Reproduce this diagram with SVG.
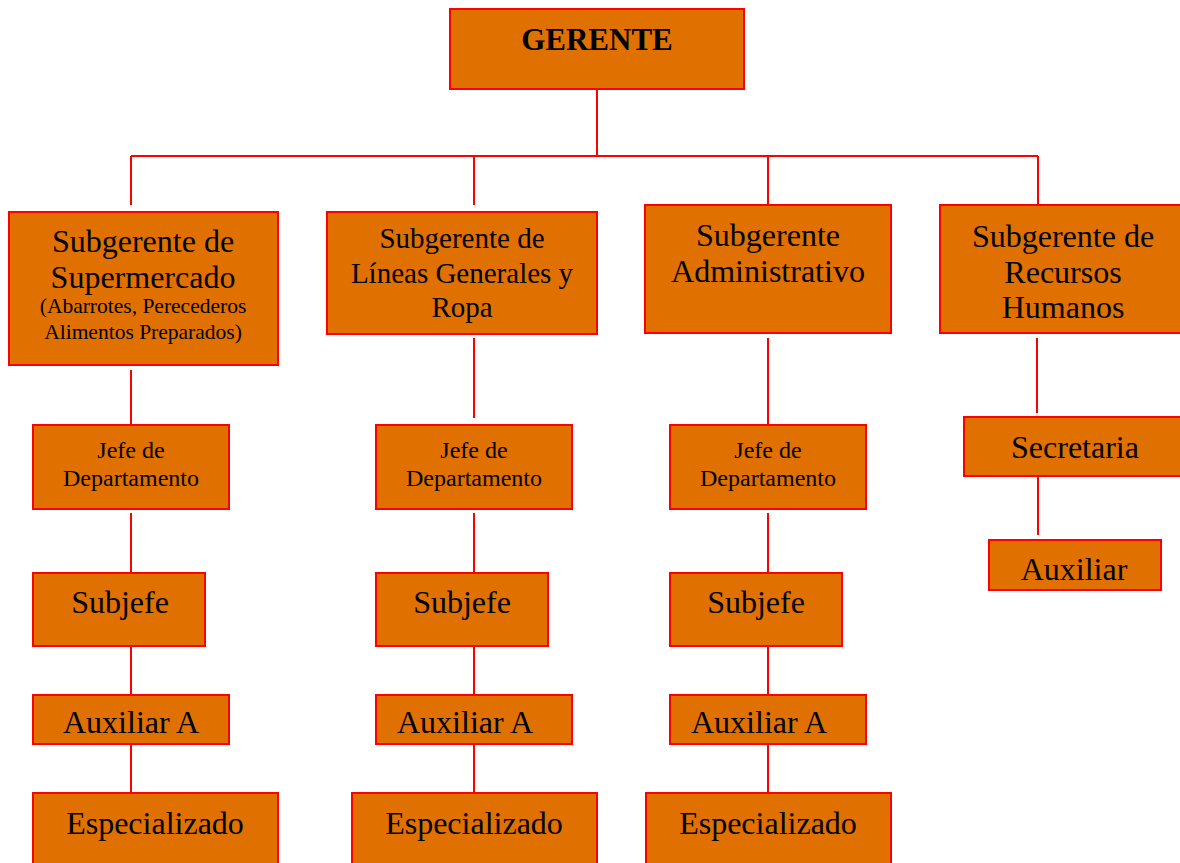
<svg xmlns="http://www.w3.org/2000/svg" width="1180" height="863" viewBox="0 0 1180 863">
  <style>
    .box { fill: #E07000; stroke: #FF0000; stroke-width: 2; }
    .lbl { font-family: "Liberation Serif", "Times New Roman", serif; fill: #000; text-anchor: middle; }
    .xl { font-size: 32px; }
    .l { font-size: 29px; }
    .m { font-size: 24px; }
    .s { font-size: 21.5px; }
    .b { font-weight: bold; font-size: 31px; }
    .wire { stroke: #FF0000; stroke-width: 2; fill: none; }
  </style>
  <rect width="1180" height="863" fill="#FFFFFF"/>

  <!-- connectors -->
  <g id="connectors" class="wire">
    <path d="M597 82V156M131 156H1038M131 156V205M474 156V205M768 156V205M1038 156V205"/>
    <path d="M131 370V425M131 513V572M131 646V694M131 744V792"/>
    <path d="M474 338V418M474 513V572M474 646V694M474 744V792"/>
    <path d="M768 338V425M768 513V572M768 646V694M768 744V792"/>
    <path d="M1037 338V413M1038 474V535"/>
  </g>

  <g id="gerente">
    <rect class="box" x="450" y="9" width="294" height="80"/>
    <text class="lbl b" x="597" y="50">GERENTE</text>
  </g>

  <!-- second level -->
  <g id="sub-supermercado">
    <rect class="box" x="9" y="212" width="269" height="153"/>
    <text class="lbl xl" x="143" y="252">Subgerente de</text>
    <text class="lbl xl" x="143" y="288">Supermercado</text>
    <text class="lbl s" x="143" y="313">(Abarrotes, Perecederos</text>
    <text class="lbl s" x="143" y="339">Alimentos Preparados)</text>
  </g>
  <g id="sub-lineas">
    <rect class="box" x="327" y="212" width="270" height="122"/>
    <text class="lbl l" x="462" y="248">Subgerente de</text>
    <text class="lbl l" x="462" y="283">Líneas Generales y</text>
    <text class="lbl l" x="462" y="317">Ropa</text>
  </g>
  <g id="sub-administrativo">
    <rect class="box" x="645" y="205" width="246" height="128"/>
    <text class="lbl xl" x="768" y="246">Subgerente</text>
    <text class="lbl xl" x="768" y="282">Administrativo</text>
  </g>
  <g id="sub-rrhh">
    <rect class="box" x="940" y="205" width="246" height="128"/>
    <text class="lbl xl" x="1063" y="247">Subgerente de</text>
    <text class="lbl xl" x="1063" y="283">Recursos</text>
    <text class="lbl xl" x="1063" y="318">Humanos</text>
  </g>

  <!-- column 1 -->
  <g id="jefe-1">
    <rect class="box" x="33" y="425" width="196" height="84"/>
    <text class="lbl m" x="131" y="458">Jefe de</text>
    <text class="lbl m" x="131" y="486">Departamento</text>
  </g>
  <g id="subjefe-1">
    <rect class="box" x="33" y="573" width="172" height="73"/>
    <text class="lbl xl" x="120" y="613">Subjefe</text>
  </g>
  <g id="auxiliar-a-1">
    <rect class="box" x="33" y="695" width="196" height="49"/>
    <text class="lbl xl" x="131" y="733">Auxiliar A</text>
  </g>
  <g id="especializado-1">
    <rect class="box" x="33" y="793" width="245" height="80"/>
    <text class="lbl xl" x="155" y="834">Especializado</text>
  </g>

  <!-- column 2 -->
  <g id="jefe-2">
    <rect class="box" x="376" y="425" width="196" height="84"/>
    <text class="lbl m" x="474" y="458">Jefe de</text>
    <text class="lbl m" x="474" y="486">Departamento</text>
  </g>
  <g id="subjefe-2">
    <rect class="box" x="376" y="573" width="172" height="73"/>
    <text class="lbl xl" x="462" y="613">Subjefe</text>
  </g>
  <g id="auxiliar-a-2">
    <rect class="box" x="376" y="695" width="196" height="49"/>
    <text class="lbl xl" x="465" y="733">Auxiliar A</text>
  </g>
  <g id="especializado-2">
    <rect class="box" x="352" y="793" width="245" height="80"/>
    <text class="lbl xl" x="474" y="834">Especializado</text>
  </g>

  <!-- column 3 -->
  <g id="jefe-3">
    <rect class="box" x="670" y="425" width="196" height="84"/>
    <text class="lbl m" x="768" y="458">Jefe de</text>
    <text class="lbl m" x="768" y="486">Departamento</text>
  </g>
  <g id="subjefe-3">
    <rect class="box" x="670" y="573" width="172" height="73"/>
    <text class="lbl xl" x="756" y="613">Subjefe</text>
  </g>
  <g id="auxiliar-a-3">
    <rect class="box" x="670" y="695" width="196" height="49"/>
    <text class="lbl xl" x="759" y="733">Auxiliar A</text>
  </g>
  <g id="especializado-3">
    <rect class="box" x="646" y="793" width="245" height="80"/>
    <text class="lbl xl" x="768" y="834">Especializado</text>
  </g>

  <!-- column 4 -->
  <g id="secretaria">
    <rect class="box" x="964" y="417" width="222" height="59"/>
    <text class="lbl xl" x="1075" y="458">Secretaria</text>
  </g>
  <g id="auxiliar">
    <rect class="box" x="989" y="540" width="172" height="50"/>
    <text class="lbl xl" x="1074" y="580">Auxiliar</text>
  </g>
</svg>
